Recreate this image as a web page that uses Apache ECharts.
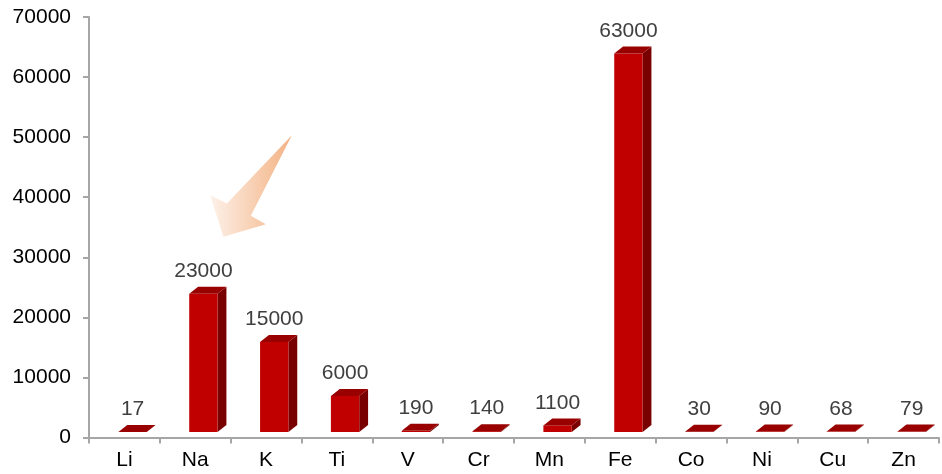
<!DOCTYPE html>
<html>
<head>
<meta charset="utf-8">
<script src="https://cdn.jsdelivr.net/npm/echarts@6/dist/echarts.min.js"></script>
<style>
  html, body { margin: 0; padding: 0; background: #ffffff; }
  #chart { width: 942px; height: 474px; }
</style>
</head>
<body>
<div id="chart"></div>
<script>
// Element abundance values
const elements = ['Li', 'Na', 'K', 'Ti', 'V', 'Cr', 'Mn', 'Fe', 'Co', 'Ni', 'Cu', 'Zn'];
const abundance = [17, 23000, 15000, 6000, 190, 140, 1100, 63000, 30, 90, 68, 79];
const yTicks = { min: 0, max: 70000, interval: 10000 };

const FONT = '"Liberation Sans", Arial, sans-serif';

// Draws one box-shaped bar: front face, right side and top face
function renderBox(params, api) {
  const idx = api.value(0);
  const val = api.value(1);
  const base = api.coord([idx, 0]);
  const top = api.coord([idx, val]);
  const band = api.size([1, 0])[0];
  const lift = 5.5;            // bars stand slightly above the axis line
  const dx = 0.125 * band;     // depth offset, horizontal
  const dy = -7;               // depth offset, vertical
  const x0 = base[0] - 0.085 * band;
  const x1 = x0 + 0.4 * band;
  const by = base[1] - lift;
  const ty = top[1] - lift;

  return {
    type: 'group',
    children: [
      {
        type: 'polygon',
        shape: { points: [[x1, ty], [x1 + dx, ty + dy], [x1 + dx, by + dy], [x1, by]] },
        style: { fill: '#780000' }
      },
      {
        type: 'rect',
        shape: { x: x0, y: ty, width: x1 - x0, height: Math.max(by - ty, 0) },
        style: { fill: '#c00000' }
      },
      {
        type: 'polygon',
        shape: { points: [[x0, ty], [x1, ty], [x1 + dx, ty + dy], [x0 + dx, ty + dy]] },
        style: { fill: '#990000' }
      },
      {
        type: 'text',
        style: {
          text: String(val),
          x: (x0 + x1) / 2,
          y: ty + dy - 5,
          align: 'center',
          verticalAlign: 'bottom',
          fill: '#404040',
          font: '21px ' + FONT
        }
      }
    ]
  };
}

const chart = echarts.init(document.getElementById('chart'), null, { renderer: 'canvas' });

chart.setOption({
  animation: false,
  backgroundColor: '#ffffff',
  grid: { left: 89, right: 3, top: 17, bottom: 36.5, containLabel: false },
  xAxis: {
    type: 'category',
    data: elements,
    axisLine: { lineStyle: { color: '#a6a6a6', width: 2 } },
    axisTick: { show: true, length: 6, lineStyle: { color: '#a6a6a6', width: 2 } },
    axisLabel: { color: '#000000', fontSize: 21, fontFamily: FONT, margin: 12 },
    splitLine: { show: false }
  },
  yAxis: {
    type: 'value',
    min: yTicks.min,
    max: yTicks.max,
    interval: yTicks.interval,
    axisLine: { show: true, lineStyle: { color: '#a6a6a6', width: 2 } },
    axisTick: { show: true, length: 6, lineStyle: { color: '#a6a6a6', width: 2 } },
    axisLabel: {
      color: '#000000', fontSize: 21, fontFamily: FONT, margin: 18,
      formatter: v => String(v)
    },
    splitLine: { show: false }
  },
  series: [{
    type: 'custom',
    clip: false,
    renderItem: renderBox,
    encode: { x: 0, y: 1 },
    data: abundance.map((v, i) => [i, v])
  }]
});

// Highlight arrow pointing at the Na bar, anchored to its value point
const anchor = chart.convertToPixel({ seriesIndex: 0 }, [1, abundance[1]]);
const ax = anchor[0], ay = anchor[1];
const arrowPts = [
  [96.6, -164.2],   // tail
  [55.6, -83.5],    // shaft meets head, right side
  [70.6, -75.2],    // right barb
  [28.2, -62.5],    // tip
  [14.9, -104.2],   // left barb
  [31.6, -95.9]     // shaft meets head, left side
].map(p => [ax + p[0], ay + p[1]]);

chart.setOption({
  graphic: [{
    type: 'polygon',
    shape: { points: arrowPts },
    style: {
      fill: new echarts.graphic.LinearGradient(0, 0, 1, 0, [
        { offset: 0, color: '#fdf1e9' },
        { offset: 1, color: '#f3b283' }
      ])
    },
    z: 10
  }]
});
</script>
</body>
</html>
